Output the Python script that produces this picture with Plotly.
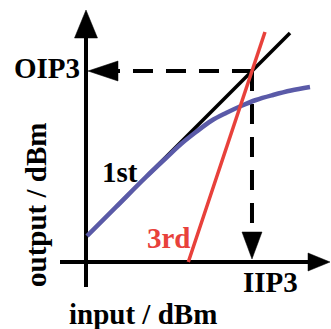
import plotly.graph_objects as go

# ---- data (abstract dBm units; axes cross at 0,0) ----
first_x = [0.1, 20.4]
first_y = [2.6, 22.9]
third_x = [10.23, 17.9]
third_y = [0.0, 23.0]
comp_x = [0.1, 3.0, 6.0, 8.0, 9.5, 11.0, 12.5, 14.0, 15.5, 17.0, 18.7, 20.5, 22.4]
comp_y = [2.6, 5.5, 8.5, 10.4, 11.8, 13.0, 14.1, 14.9, 15.6, 16.2, 16.7, 17.15, 17.5]
x_axis_span = [-2.6, 24.4]
y_axis_span = [-2.5, 25.2]

# intercept point of 1st and 3rd order lines
s1 = (first_y[1] - first_y[0]) / (first_x[1] - first_x[0])
s3 = (third_y[1] - third_y[0]) / (third_x[1] - third_x[0])
b1 = first_y[0] - s1 * first_x[0]
b3 = third_y[0] - s3 * third_x[0]
iip3 = (b3 - b1) / (s1 - s3)
oip3 = s1 * iip3 + b1

BLUE = "#5a5aa8"
RED = "#e8413b"
FONT = "Liberation Serif"

fig = go.Figure()

def seg(xs, ys, color, width, dash=None):
    fig.add_trace(go.Scatter(x=xs, y=ys, mode="lines",
                             line=dict(color=color, width=width, dash=dash),
                             hoverinfo="skip", showlegend=False))

def tri(xs, ys):
    fig.add_trace(go.Scatter(x=xs + [xs[0]], y=ys + [ys[0]], mode="lines",
                             fill="toself", fillcolor="black",
                             line=dict(color="black", width=0.5),
                             hoverinfo="skip", showlegend=False))

# axes
ah_len_y, ah_w_y = 2.8, 1.15
ah_len_x, ah_w_x = 2.2, 0.9
seg([0, 0], [y_axis_span[0], y_axis_span[1] - ah_len_y + 0.2], "black", 4)
seg([x_axis_span[0], x_axis_span[1] - ah_len_x + 0.2], [0, 0], "black", 4)
tri([0, -ah_w_y, ah_w_y], [y_axis_span[1], y_axis_span[1] - ah_len_y, y_axis_span[1] - ah_len_y])
tri([x_axis_span[1], x_axis_span[1] - ah_len_x, x_axis_span[1] - ah_len_x], [0, ah_w_x, -ah_w_x])

# dashed projection arrows
d_len, d_w = 3.0, 1.0
oip_tip = 0.2
iip_tip = 0.3
seg([iip3, oip_tip + d_len], [oip3, oip3], "black", 4, "20px,13px")
seg([iip3, iip3], [oip3, iip_tip + d_len - 0.3], "black", 4, "20px,13px")
tri([oip_tip, oip_tip + d_len, oip_tip + d_len], [oip3, oip3 + d_w, oip3 - d_w])
tri([iip3, iip3 - d_w, iip3 + d_w], [iip_tip, iip_tip + d_len - 0.3, iip_tip + d_len - 0.3])

# curves
seg(first_x, first_y, "black", 3.5)
seg(comp_x, comp_y, BLUE, 4.5)
fig.data[-1].line.shape = "spline"
seg(third_x, third_y, RED, 3.5)

def label(txt, x, y, color="black", angle=0):
    fig.add_annotation(x=x, y=y, text="<b>%s</b>" % txt, showarrow=False,
                       textangle=angle, xanchor="center", yanchor="middle",
                       font=dict(family=FONT, size=29, color=color))

label("OIP3", -3.9, oip3 + 0.35)
label("1st", 3.35, 9.0)
label("3rd", 8.3, 2.4, RED)
label("IIP3", 18.4, -2.0)
label("input / dBm", 5.7, -5.15)
label("output / dBm", -5.0, 5.7, angle=-90)

fig.update_layout(width=331, height=329, margin=dict(l=0, r=0, t=0, b=0),
                  paper_bgcolor="white", plot_bgcolor="white",
                  xaxis=dict(range=[-8.6, 24.5], visible=False, fixedrange=True),
                  yaxis=dict(range=[-6.7, 26.2], visible=False, fixedrange=True))

fig.write_html("out.html", config={"displayModeBar": False},
               post_script="document.body.style.margin='0';document.body.style.overflow='hidden';")
